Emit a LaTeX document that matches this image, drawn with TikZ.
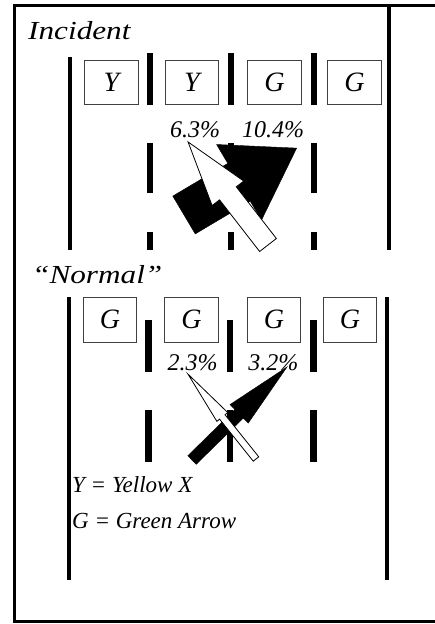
\documentclass[tikz,border=0pt]{standalone}
\usepackage{fontspec}
\setmainfont{Liberation Serif}
\usetikzlibrary{calc}

% arrow along its own axis: style, tail, angle, length, shaft, head width, head length
\newcommand{\turnarrow}[7]{%
  \begin{scope}[shift={#2}, rotate=#3]
    \draw[#1] (0,-#5) -- ({#4-#7},-#5) -- ({#4-#7},-#6) -- (#4,0)
      -- ({#4-#7},#6) -- ({#4-#7},#5) -- (0,#5) -- cycle;
  \end{scope}}

\begin{document}
\begin{tikzpicture}[x=1pt, y=-1pt,
  frameline/.style={line width=2.5pt},
  laneline/.style={line width=4pt},
  divider/.style={line width=6.5pt},
  lanebox/.style={draw=black!75, line width=0.9pt, minimum width=53.5pt, minimum height=44pt,
    inner sep=0pt, font=\fontsize{28}{28}\selectfont\itshape},
  heading/.style={anchor=base west, inner sep=0pt, xscale=1.2, font=\fontsize{26}{26}\selectfont\itshape},
  pct/.style={anchor=base, inner sep=0pt, font=\fontsize{24}{24}\selectfont\itshape},
  legendtext/.style={anchor=base west, inner sep=0pt, font=\fontsize{23}{23}\selectfont\itshape},
  blackarrow/.style={fill=black},
  whitearrow/.style={fill=white, draw=black, line width=0.8pt}]
	\useasboundingbox (0,0) rectangle (435,624);

	% draw frame
	\draw[frameline] (435,5.5) -- (14.5,5.5) -- (14.5,621.5) -- (435,621.5);

	% incident
	\node[heading] (incident) at (28,39) {Incident};
	\draw[laneline] (70,57) -- (70,250);
	\draw[laneline] (388.5,5.5) -- (388.5,250);
	\foreach \x in {150,231,314} {
		\draw[divider] (\x,53) -- (\x,105);
		\draw[divider] (\x,143) -- (\x,193);
		\draw[divider] (\x,232) -- (\x,250);
	}
	\foreach \x/\sig [count=\i] in {111.5/Y,192/Y,274.5/G,354.5/G}
		\node[lanebox] (incsig\i) at (\x,82) {\sig};
	\node[pct] (incleft) at (195,137) {6.3\%};
	\node[pct] (incright) at (273,137) {10.4\%};
	\turnarrow{blackarrow}{(184,215)}{30.7}{131}{22}{44}{67}
	\turnarrow{whitearrow}{(268,245)}{127.8}{130.4}{10.6}{20}{65}

	% normal
	\node[heading] (normal) at (32,283) {“Normal”};
	\draw[laneline] (69,297) -- (69,580);
	\draw[laneline] (387,297) -- (387,580);
	\foreach \x in {148.5,230,313.5} {
		\draw[divider] (\x,320) -- (\x,372);
		\draw[divider] (\x,410) -- (\x,462);
	}
	\foreach \x/\sig [count=\i] in {110/G,191.5/G,274/G,350/G}
		\node[lanebox, minimum height=45pt] (norsig\i) at (\x,319.5) {\sig};
	\node[pct] (norleft) at (192.5,370) {2.3\%};
	\node[pct] (norright) at (273.3,370) {3.2\%};
	\turnarrow{blackarrow}{(192,460)}{44.4}{133}{6}{13}{67}
	\turnarrow{whitearrow}{(256,459)}{128.7}{108.9}{3.5}{7}{55}

	% legend
	\node[legendtext] (keyY) at (72,492) {Y = Yellow X};
	\node[legendtext] (keyG) at (72,528) {G = Green Arrow};
\end{tikzpicture}
\end{document}
